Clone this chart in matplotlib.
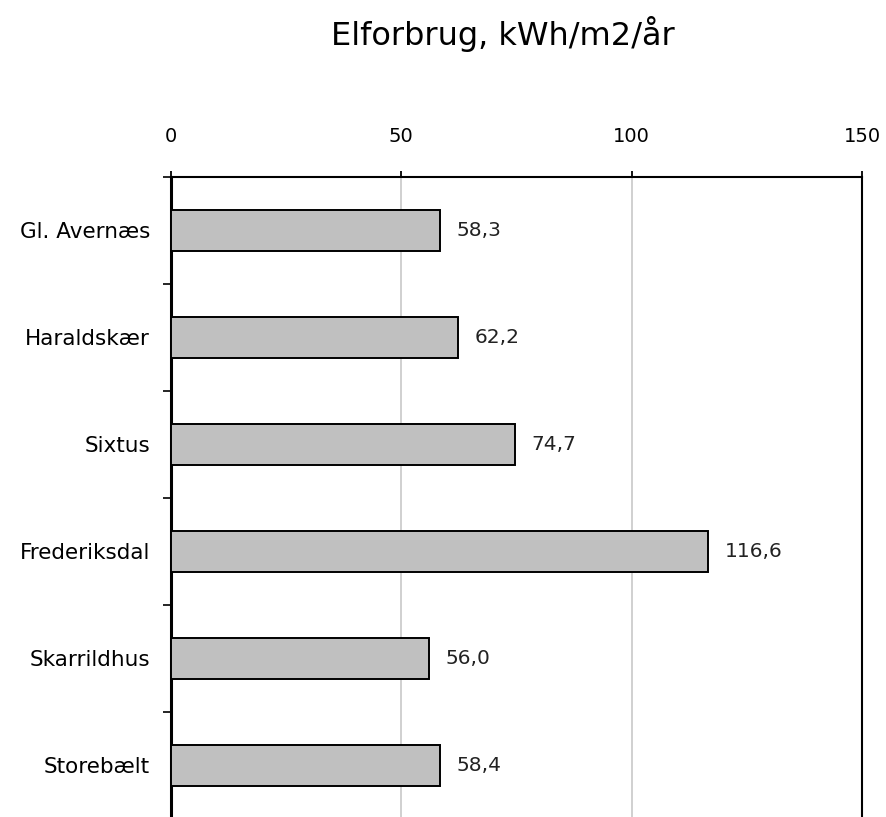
import matplotlib.pyplot as plt

# data
categories = ['Gl. Avernæs', 'Haraldskær', 'Sixtus', 'Frederiksdal', 'Skarrildhus', 'Storebælt']
values = [58.3, 62.2, 74.7, 116.6, 56.0, 58.4]
x_ticks = [0, 50, 100, 150]

plt.rcParams['font.family'] = ['DejaVu Sans']

fig = plt.figure(figsize=(8.86, 8.17), dpi=100)
ax = fig.add_axes([171 / 886, 1 - 819 / 817, 691 / 886, 642 / 817])

pos = list(range(len(categories)))
ax.barh(pos, values, height=0.39, color='#c0c0c0', edgecolor='black', linewidth=1.4, zorder=3)

for p, v in zip(pos, values):
    ax.annotate(f'{v:.1f}'.replace('.', ','), xy=(v, p), xytext=(12, 0),
                textcoords='offset points', ha='left', va='center',
                fontsize=14.5, color='#222222')

ax.set_xlim(0, 150)
ax.set_ylim(len(categories) - 0.5, -0.5)

ax.xaxis.tick_top()
ax.set_xticks(x_ticks)
ax.set_xticklabels([str(t) for t in x_ticks], fontsize=14)
ax.tick_params(axis='x', direction='out', length=4, width=1.3, pad=18, colors='black')
ax.xaxis.grid(True, color='#c8c8c8', linewidth=1.2, zorder=0)

ax.set_yticks(pos)
ax.set_yticklabels(categories, fontsize=15.5)
ax.tick_params(axis='y', which='major', length=0, pad=15)
ax.set_yticks([p + 0.5 for p in range(-1, len(categories))], minor=True)
ax.tick_params(axis='y', which='minor', direction='out', length=6, width=1.2)

ax.spines['left'].set_linewidth(2.2)
ax.spines['top'].set_linewidth(1.5)
ax.spines['right'].set_linewidth(1.5)
ax.spines['bottom'].set_visible(False)

fig.text(0.568, 0.958, 'Elforbrug, kWh/m2/år', ha='center', va='center', fontsize=23)

fig.savefig('out.png', dpi=100)
